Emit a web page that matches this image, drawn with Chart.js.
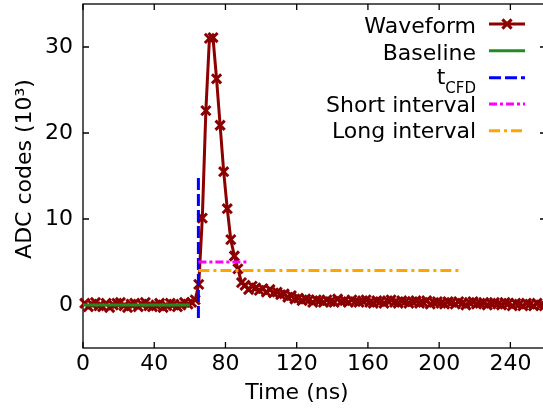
<!DOCTYPE html>
<html>
<head>
<meta charset="utf-8">
<script src="https://cdn.jsdelivr.net/npm/chart.js@4.4.1/dist/chart.umd.min.js"></script>
<style>
  html, body { margin: 0; padding: 0; background: #fff; overflow: hidden; }
  #wrap { width: 543px; height: 410px; overflow: hidden; }
  canvas { display: block; }
</style>
</head>
<body>
<div id="wrap"><canvas id="pulse" width="560" height="410"></canvas></div>
<script>
// waveform samples: time in ns, amplitude in ADC codes (x1000)
const preTime = [1, 3, 5, 7, 9, 11, 13, 15, 17, 19, 21, 23, 25, 27, 29, 31,
  33, 35, 37, 39, 41, 43, 45, 47, 49, 51, 53, 55, 57, 59, 61];
const preAdc = [0.2, -0.2, 0.1, 0.3, -0.1, -0.2, 0.2, -0.3, 0.0, 0.2, 0.3, -0.1, -0.3, 0.1, 0.2, -0.2,
  0.1, 0.3, -0.1, -0.2, 0.0, 0.2, -0.3, -0.1, 0.2, 0.1, -0.2, 0.0, 0.3, 0.1, 0.3];

const pulseTime = [63, 65, 67, 69, 71, 73, 75, 77, 79, 81, 83, 85, 87, 89];
const pulseAdc = [0.6, 2.4, 10.1, 22.6, 31.0, 31.1, 26.3, 20.9, 15.5, 11.2, 7.6, 5.7, 4.2, 2.6];

const tailTime = [91, 93, 95, 97, 99, 101, 103, 105, 107, 109,
  111, 113, 115, 117, 119, 121, 123, 125, 127, 129,
  131, 133, 135, 137, 139, 141, 143, 145, 147, 149,
  151, 153, 155, 157, 159, 161, 163, 165, 167, 169,
  171, 173, 175, 177, 179, 181, 183, 185, 187, 189,
  191, 193, 195, 197, 199, 201, 203, 205, 207, 209,
  211, 213, 215, 217, 219, 221, 223, 225, 227, 229,
  231, 233, 235, 237, 239, 241, 243, 245, 247, 249,
  251, 253, 255, 257, 259];
const tailAdc = [2.3, 1.8, 2.2, 2.0, 1.7, 1.9, 1.5, 1.8, 1.4, 1.5,
  1.2, 1.3, 0.9, 1.1, 0.7, 0.8, 0.5, 0.7, 0.6, 0.3,
  0.6, 0.5, 0.3, 0.6, 0.4, 0.3, 0.7, 0.4, 0.5, 0.3,
  0.6, 0.4, 0.3, 0.5, 0.6, 0.3, 0.2, 0.5, 0.4, 0.2,
  0.5, 0.6, 0.3, 0.2, 0.5, 0.4, 0.2, 0.4, 0.5, 0.2,
  0.3, 0.5, 0.1, 0.3, 0.4, 0.2, 0.1, 0.4, 0.3, 0.1,
  0.4, 0.2, 0.0, 0.3, 0.4, 0.1, 0.2, 0.3, 0.0, 0.2,
  0.3, 0.1, 0.0, 0.3, 0.2, -0.1, 0.2, 0.1, -0.1, 0.2,
  0.1, -0.1, 0.2, 0.0, -0.1];

// analysis markers
const baselineTime = [0, 60];
const baselineAdc = [0, 0];
const cfdTime = [64.8, 64.8];
const cfdAdc = [-1.5, 15];
const shortTime = [64.8, 92.5];
const shortAdc = [5.0, 5.0];
const longTime = [64.8, 212.5];
const longAdc = [4.0, 4.0];

const xTicks = [0, 40, 80, 120, 160, 200, 240];
const yTicks = [0, 10, 20, 30];
const xTitle = "Time (ns)";
const yTitle = "ADC codes (10\u00B3)";

const FONT = "DejaVu Sans";

function pts(ts, vs) {
  return ts.map((t, i) => ({ x: t, y: vs[i] }));
}

function noPad(s) {
  s.paddingLeft = 0; s.paddingRight = 0; s.paddingTop = 0; s.paddingBottom = 0;
}

// frame with inward ticks on all four sides (drawn below the data)
const frame = {
  id: "frame",
  beforeDatasetsDraw(chart) {
    const { ctx, chartArea: a, scales: { x, y } } = chart;
    ctx.save();
    ctx.strokeStyle = "#000";
    ctx.lineWidth = 1.3;
    ctx.strokeRect(a.left, a.top, a.right - a.left, a.bottom - a.top);
    ctx.beginPath();
    xTicks.forEach(v => {
      const px = x.getPixelForValue(v);
      ctx.moveTo(px, a.bottom); ctx.lineTo(px, a.bottom - 6);
      ctx.moveTo(px, a.top); ctx.lineTo(px, a.top + 6);
    });
    yTicks.forEach(v => {
      const py = y.getPixelForValue(v);
      ctx.moveTo(a.left, py); ctx.lineTo(a.left + 6, py);
      ctx.moveTo(a.right, py); ctx.lineTo(a.right - 6, py);
    });
    ctx.stroke();

    // axis titles
    ctx.fillStyle = "#000";
    ctx.font = `22px "${FONT}"`;
    ctx.textAlign = "center";
    ctx.textBaseline = "alphabetic";
    ctx.fillText(xTitle, 297, 399);
    ctx.translate(31, 169);
    ctx.rotate(-Math.PI / 2);
    ctx.fillText(yTitle, 0, 0);
    ctx.restore();
  }
};

// legend: text right-aligned, line sample to the right
const sideLegend = {
  id: "sideLegend",
  afterDraw(chart) {
    const { ctx } = chart;
    const lineY = [24, 50.7, 77.7, 104, 130.7];
    const textY = [33, 59.5, 83.5, 111.5, 138];
    const textRight = 476, x0 = 489, x1 = 525;
    ctx.save();
    chart.data.datasets.forEach((ds, i) => {
      ctx.fillStyle = "#000";
      ctx.textBaseline = "alphabetic";
      ctx.textAlign = "right";
      if (ds.label.includes("_")) {
        const [main, sub] = ds.label.split("_");
        ctx.font = `15px "${FONT}"`;
        ctx.fillText(sub, textRight, textY[i] + 9.5);
        const subW = ctx.measureText(sub).width;
        ctx.font = `22px "${FONT}"`;
        ctx.fillText(main, textRight - subW, textY[i]);
      } else {
        ctx.font = `22px "${FONT}"`;
        ctx.fillText(ds.label, textRight, textY[i]);
      }
      ctx.strokeStyle = ds.borderColor;
      ctx.lineWidth = ds.borderWidth;
      ctx.setLineDash(ds.borderDash || []);
      ctx.beginPath();
      ctx.moveTo(x0, lineY[i]);
      ctx.lineTo(x1, lineY[i]);
      ctx.stroke();
      ctx.setLineDash([]);
      if (ds.pointRadius > 0) {
        const r = ds.pointRadius * Math.SQRT1_2, cx = (x0 + x1) / 2, cy = lineY[i];
        ctx.lineWidth = ds.pointBorderWidth;
        ctx.beginPath();
        ctx.moveTo(cx - r, cy - r); ctx.lineTo(cx + r, cy + r);
        ctx.moveTo(cx - r, cy + r); ctx.lineTo(cx + r, cy - r);
        ctx.stroke();
      }
    });
    ctx.restore();
  }
};

const waveform = [...pts(preTime, preAdc), ...pts(pulseTime, pulseAdc), ...pts(tailTime, tailAdc)];

new Chart(document.getElementById("pulse"), {
  type: "line",
  data: {
    datasets: [
      {
        label: "Waveform", data: waveform, order: 5,
        borderColor: "#8b0000", backgroundColor: "#8b0000", borderWidth: 3,
        pointStyle: "crossRot", pointRadius: 6.5, pointBorderWidth: 3,
        pointBorderColor: "#8b0000", tension: 0, clip: false
      },
      {
        label: "Baseline", data: pts(baselineTime, baselineAdc), order: 4,
        borderColor: "#228b22", borderWidth: 3, pointRadius: 0
      },
      {
        label: "t_CFD", data: pts(cfdTime, cfdAdc), order: 3,
        borderColor: "#0000ff", borderWidth: 3, borderDash: [12, 4], pointRadius: 0
      },
      {
        label: "Short interval", data: pts(shortTime, shortAdc), order: 2,
        borderColor: "#ff00ff", borderWidth: 3, borderDash: [8, 3, 3, 3], pointRadius: 0
      },
      {
        label: "Long interval", data: pts(longTime, longAdc), order: 1,
        borderColor: "#ffa500", borderWidth: 3, borderDash: [11, 4, 3, 4], pointRadius: 0
      }
    ]
  },
  options: {
    responsive: false,
    animation: false,
    devicePixelRatio: 1,
    layout: { autoPadding: false, padding: { top: 4, right: 14, left: 0, bottom: 0 } },
    plugins: { legend: { display: false }, tooltip: { enabled: false } },
    scales: {
      x: {
        type: "linear", min: 0, max: 260,
        grid: { display: false, drawTicks: false },
        border: { display: false },
        afterBuildTicks: s => { s.ticks = xTicks.map(v => ({ value: v })); },
        afterFit: s => { s.height = 62; noPad(s); },
        ticks: { font: { family: FONT, size: 22 }, color: "#000", padding: 3, maxRotation: 0, autoSkip: false }
      },
      y: {
        min: -5, max: 35,
        grid: { display: false, drawTicks: false },
        border: { display: false },
        afterBuildTicks: s => { s.ticks = yTicks.map(v => ({ value: v })); },
        afterFit: s => { s.width = 83; noPad(s); },
        ticks: { font: { family: FONT, size: 22 }, color: "#000", padding: 10 }
      }
    }
  },
  plugins: [frame, sideLegend]
});
</script>
</body>
</html>
